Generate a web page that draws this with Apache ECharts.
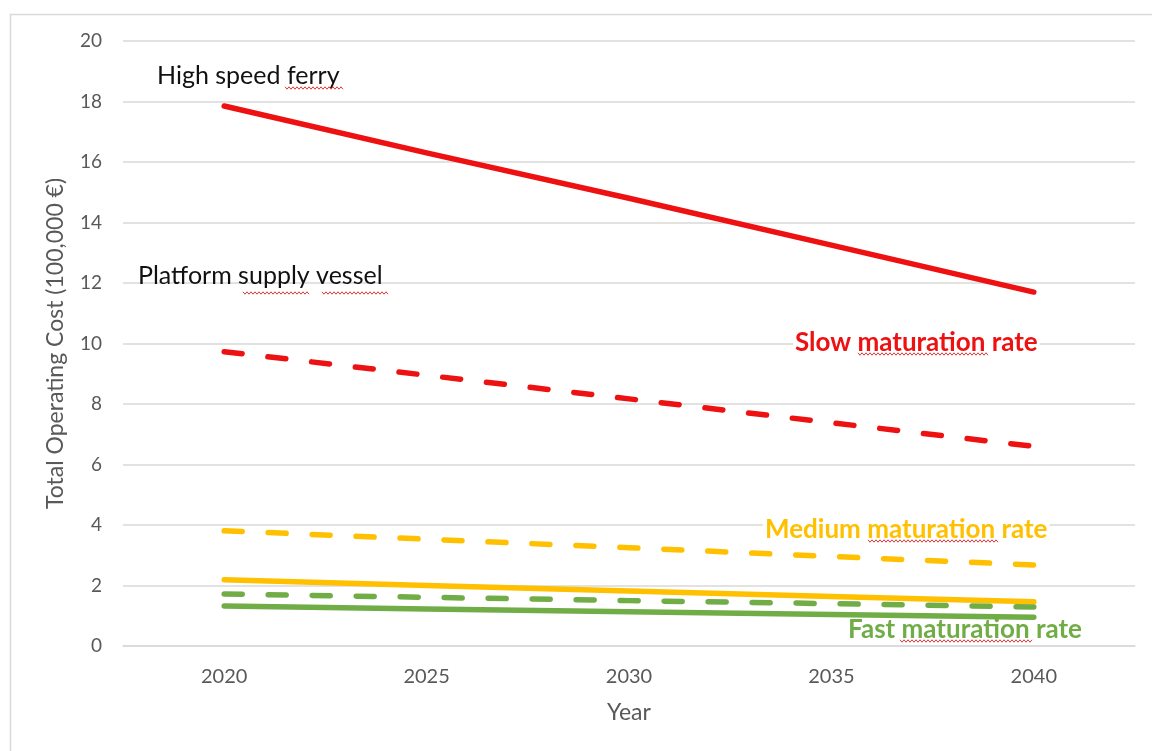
<!DOCTYPE html>
<html>
<head>
<meta charset="utf-8">
<title>Total Operating Cost</title>
<script src="https://cdn.jsdelivr.net/npm/echarts@6/dist/echarts.min.js"></script>
<style>
  html, body { margin: 0; padding: 0; background: #fff; }
  #chart { width: 1152px; height: 751px; }
</style>
</head>
<body>
<div id="chart"></div>
<script>
// Years on the horizontal axis
const years = ['2020', '2025', '2030', '2035', '2040'];

// Total operating cost, in units of 100,000 €
const ferrySlow     = [17.85, 16.30, 14.80, 13.25, 11.70];
const vesselSlow    = [9.73, 8.95, 8.17, 7.38, 6.60];
const vesselMedium  = [3.81, 3.53, 3.25, 2.96, 2.68];
const ferryMedium   = [2.19, 2.00, 1.82, 1.64, 1.46];
const vesselFast    = [1.72, 1.61, 1.50, 1.40, 1.29];
const ferryFast     = [1.32, 1.22, 1.13, 1.04, 0.95];

const RED = '#ee1111';
const GOLD = '#ffc000';
const GREEN = '#70ad47';
const FONT = 'Lato, "Open Sans", sans-serif';
const DASH = [18, 26];

function series(name, data, color, dashed) {
  return {
    name, type: 'line', data, z: 3,
    symbol: 'none', smooth: false, silent: true,
    lineStyle: {
      color, width: 5.5,
      type: dashed ? DASH : 'solid',
      cap: 'round', join: 'round'
    }
  };
}

// wavy spell-check style underline under a word
function squiggle(x0, x1, y) {
  const pts = [];
  let up = true;
  for (let x = x0; x <= x1; x += 2) {
    pts.push([x, y + (up ? -1.2 : 1.2)]);
    up = !up;
  }
  return {
    type: 'polyline', z: 20, silent: true,
    shape: { points: pts },
    style: { stroke: '#d83a3a', lineWidth: 1, fill: null }
  };
}

// text boxes sit above the gridlines but below the lines
function note(text, x, y, color, bold) {
  return {
    type: 'text', z: 1, silent: true,
    style: {
      text, x, y,
      fill: color,
      font: (bold ? 'bold 26px ' : '25px ') + FONT,
      textVerticalAlign: 'middle',
      backgroundColor: bold ? '#ffffff' : null,
      padding: bold ? [0, 2] : 0
    }
  };
}

const chart = echarts.init(document.getElementById('chart'));
chart.setOption({
  animation: false,
  backgroundColor: '#ffffff',
  grid: { left: 123, right: 17, top: 41, bottom: 105 },
  xAxis: {
    type: 'category',
    data: years,
    boundaryGap: true,
    name: 'Year',
    nameLocation: 'middle',
    nameGap: 55,
    nameTextStyle: { color: '#595959', fontSize: 23, fontFamily: FONT },
    axisLine: { show: true, lineStyle: { color: '#d9d9d9', width: 1.5 } },
    axisTick: { show: false },
    axisLabel: { color: '#595959', fontSize: 20, fontFamily: FONT, margin: 21 }
  },
  yAxis: {
    type: 'value',
    min: 0, max: 20, interval: 2,
    name: 'Total Operating Cost (100,000 €)',
    nameLocation: 'middle',
    nameGap: 56,
    nameTextStyle: { color: '#595959', fontSize: 23, fontFamily: FONT },
    axisLine: { show: false },
    axisTick: { show: false },
    splitLine: { lineStyle: { color: '#d9d9d9', width: 1.5 } },
    axisLabel: { color: '#595959', fontSize: 19, fontFamily: FONT, margin: 21 }
  },
  series: [
    series('High speed ferry – slow', ferrySlow, RED, false),
    series('Platform supply vessel – slow', vesselSlow, RED, true),
    series('Platform supply vessel – medium', vesselMedium, GOLD, true),
    series('High speed ferry – medium', ferryMedium, GOLD, false),
    series('Platform supply vessel – fast', vesselFast, GREEN, true),
    series('High speed ferry – fast', ferryFast, GREEN, false)
  ],
  graphic: [
    {
      type: 'rect', z: 0, silent: true,
      shape: { x: 10.5, y: 14.5, width: 1200, height: 800 },
      style: { fill: null, stroke: '#d9d9d9', lineWidth: 1.5 }
    },
    note('High speed ferry', 157, 76, '#111111', false),
    note('Platform supply vessel', 138, 276, '#111111', false),
    note('Slow maturation rate', 793, 343, RED, true),
    note('Medium maturation rate', 763, 530, GOLD, true),
    note('Fast maturation rate', 846, 630, GREEN, true),
    squiggle(285, 343, 88),
    squiggle(243, 310, 293),
    squiggle(322, 388, 293),
    squiggle(858, 988, 354),
    squiggle(868, 998, 541),
    squiggle(900, 1032, 641)
  ]
});
</script>
</body>
</html>
